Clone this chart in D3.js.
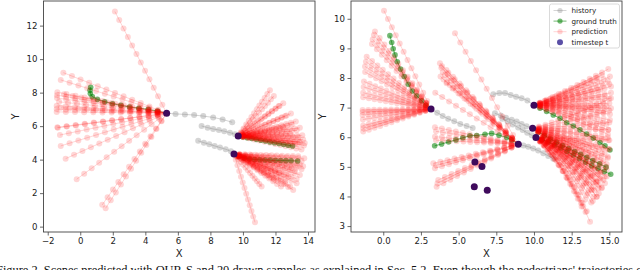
<!DOCTYPE html>
<html>
<head>
<meta charset="utf-8">
<script src="https://cdn.jsdelivr.net/npm/d3@7/dist/d3.min.js"></script>
<style>
  body { margin: 0; background: #fff; }
  svg { display: block; }
</style>
</head>
<body>
<script>
// ---------- left scene (3 agents) ----------
const leftXTicks = [-2, 0, 2, 4, 6, 8, 10, 12, 14];
const leftYTicks = [0, 2, 4, 6, 8, 10, 12];
const leftNow = [[5.31, 6.77], [9.71, 5.41], [9.45, 4.34]];
const leftHistory = [
  [[9.34, 6.23], [8.75, 6.40], [8.17, 6.52], [7.56, 6.60], [7.00, 6.66], [6.43, 6.70], [5.86, 6.73]],
  [[7.46, 6.01], [7.83, 5.91], [8.17, 5.83], [8.52, 5.77], [8.85, 5.70], [9.20, 5.61], [9.51, 5.52]],
  [[7.25, 5.12], [7.60, 5.01], [7.93, 4.92], [8.26, 4.82], [8.59, 4.72], [8.94, 4.62], [9.26, 4.50]]
];
const leftTruth = [
  [[4.75, 6.90], [4.18, 7.00], [3.60, 7.07], [3.03, 7.14], [2.50, 7.24], [1.98, 7.34], [1.50, 7.46], [1.05, 7.60], [0.74, 7.76], [0.62, 7.95], [0.60, 8.14], [0.64, 8.32]],
  [[9.98, 5.36], [10.26, 5.31], [10.54, 5.26], [10.82, 5.21], [11.10, 5.16], [11.38, 5.11], [11.66, 5.06], [11.94, 5.01], [12.22, 4.96], [12.50, 4.91], [12.78, 4.86], [13.05, 4.81]],
  [[9.75, 4.20], [10.08, 4.10], [10.40, 4.04], [10.72, 4.01], [11.04, 3.99], [11.36, 3.98], [11.68, 3.97], [12.00, 3.96], [12.32, 3.95], [12.64, 3.94], [12.96, 3.93], [13.36, 3.92]]
];
// end point of each of the 20 drawn samples
const leftPredEnds = [
  [[2.13, 12.84], [-1.04, 9.19], [-1.20, 8.76], [-1.41, 8.02], [-1.43, 7.85], [-1.43, 7.68], [-1.30, 7.45], [-1.45, 7.22], [-1.45, 7.02], [-1.45, 6.85],
   [-1.41, 5.93], [-1.38, 5.90], [-1.25, 5.47], [-1.20, 4.82], [-0.90, 4.06], [-0.22, 2.83], [1.35, 1.30], [1.56, 1.10], [-1.00, 7.90], [-1.20, 7.10]],
  [[11.66, 8.14], [11.90, 7.80], [12.48, 7.37], [12.20, 7.20], [12.95, 6.75], [12.60, 6.60], [13.25, 6.27], [13.00, 6.10], [13.50, 5.90], [13.30, 5.75],
   [13.65, 5.45], [13.40, 5.35], [13.70, 5.20], [13.50, 5.05], [13.75, 4.85], [13.20, 4.95], [13.60, 4.60], [12.90, 5.55], [12.50, 5.90], [13.80, 5.00]],
  [[13.77, 4.08], [13.60, 3.90], [13.50, 3.70], [13.60, 3.43], [13.50, 3.09], [13.30, 2.85], [13.30, 2.59], [13.09, 2.19], [12.90, 2.40], [12.34, 2.39],
   [12.60, 2.70], [11.15, 2.39], [10.74, 0.26], [13.20, 3.30], [13.00, 3.50], [12.80, 3.00], [13.40, 4.20], [12.20, 3.20], [11.90, 2.80], [13.70, 3.60]]
];
const leftBend = [0.5, 0.5, 0.5];

// ---------- right scene (5 agents + 4 without samples) ----------
const rightXTicks = [0, 2.5, 5, 7.5, 10, 12.5, 15];
const rightYTicks = [3, 4, 5, 6, 7, 8, 9, 10];
const rightNow = [[3.17, 6.95], [8.96, 5.76], [10.00, 7.08], [9.91, 6.30], [10.13, 5.99]];
const rightAlone = [[6.08, 5.16], [6.55, 5.01], [6.04, 4.33], [6.90, 4.21]];
const rightHistory = [
  [[5.93, 6.31], [5.53, 6.38], [5.11, 6.45], [4.71, 6.54], [4.31, 6.62], [3.94, 6.72], [3.58, 6.83]],
  [[11.28, 5.27], [10.95, 5.37], [10.62, 5.46], [10.28, 5.55], [9.95, 5.62], [9.62, 5.68], [9.30, 5.72]],
  [[7.30, 7.45], [7.70, 7.49], [8.08, 7.49], [8.45, 7.43], [8.81, 7.37], [9.18, 7.32], [9.56, 7.24]],
  [[7.41, 6.81], [7.79, 6.73], [8.14, 6.66], [8.52, 6.59], [8.85, 6.53], [9.18, 6.45], [9.51, 6.37]],
  [[7.90, 6.62], [8.25, 6.53], [8.60, 6.43], [8.95, 6.33], [9.25, 6.24], [9.55, 6.15], [9.85, 6.07]]
];
const rightTruth = [
  [[2.83, 7.08], [2.55, 7.23], [2.22, 7.40], [1.93, 7.56], [1.66, 7.79], [1.39, 8.05], [1.15, 8.30], [0.93, 8.55], [0.78, 8.78], [0.66, 8.99], [0.56, 9.20], [0.44, 9.43]],
  [[8.52, 5.91], [8.19, 5.99], [7.68, 6.07], [7.19, 6.13], [6.75, 6.10], [6.20, 6.06], [5.75, 6.05], [5.28, 5.98], [4.82, 5.91], [4.33, 5.84], [3.87, 5.77], [3.41, 5.71]],
  [[10.40, 6.98], [10.84, 6.87], [11.28, 6.75], [11.73, 6.64], [12.17, 6.49], [12.61, 6.38], [13.05, 6.25], [13.49, 6.11], [13.93, 5.97], [14.38, 5.82], [14.71, 5.71], [15.04, 5.57]],
  [[10.30, 6.18], [10.70, 6.06], [11.10, 5.94], [11.50, 5.83], [11.90, 5.72], [12.30, 5.62], [12.70, 5.52], [13.10, 5.42], [13.50, 5.32], [13.90, 5.21], [14.35, 5.10], [14.78, 4.99]],
  [[10.55, 5.92], [10.96, 5.84], [11.37, 5.74], [11.78, 5.64], [12.19, 5.52], [12.60, 5.40], [13.01, 5.28], [13.42, 5.16], [13.83, 5.04], [14.25, 4.94], [14.67, 4.84], [15.09, 4.75]]
];
const rightPredEnds = [
  [[0.05, 10.27], [-0.55, 9.57], [-0.62, 9.45], [-0.70, 9.30], [-0.75, 9.15], [-1.10, 8.72], [-1.15, 8.55], [-1.21, 8.39], [-1.20, 8.20], [-1.28, 7.88],
   [-1.30, 7.70], [-1.33, 7.50], [-1.33, 7.35], [-1.37, 6.92], [-1.37, 6.85], [-1.37, 6.75], [-1.35, 6.60], [-1.33, 6.40], [-1.33, 6.30], [-1.33, 6.19]],
  [[3.76, 8.50], [3.85, 8.35], [3.95, 8.20], [3.80, 8.05], [4.00, 7.95], [4.20, 7.82], [3.90, 8.40], [4.10, 8.10], [4.76, 9.51], [3.45, 7.50],
   [3.43, 6.34], [3.50, 6.20], [3.43, 6.02], [3.50, 5.90], [3.32, 5.12], [3.43, 4.95], [3.50, 5.05], [3.54, 4.33], [3.65, 4.56], [3.60, 4.45]],
  [[14.93, 8.30], [15.04, 8.05], [15.11, 7.71], [14.90, 7.90], [15.11, 7.50], [15.11, 7.32], [15.00, 7.15], [15.11, 6.98], [15.04, 6.78], [15.04, 6.58],
   [14.93, 6.25], [14.80, 6.45], [14.60, 6.90], [14.40, 7.60], [14.20, 8.00], [14.70, 7.40], [15.00, 7.80], [14.90, 6.10], [14.50, 8.10], [14.80, 7.05]],
  [[15.00, 6.90], [15.00, 6.50], [14.93, 6.25], [14.93, 5.90], [14.93, 5.60], [14.90, 5.34], [14.82, 5.10], [14.82, 4.90], [14.70, 4.67], [14.60, 4.56],
   [14.50, 4.30], [14.30, 4.10], [14.16, 3.99], [13.90, 3.85], [15.00, 7.30], [14.90, 6.00], [14.70, 5.50], [14.60, 5.20], [14.40, 4.80], [14.20, 4.50]],
  [[14.82, 4.67], [14.71, 4.45], [14.49, 4.28], [14.27, 4.28], [14.16, 3.99], [13.94, 3.99], [13.72, 3.15], [13.16, 3.66], [13.27, 3.66], [14.60, 4.90],
   [14.90, 5.30], [15.00, 5.60], [14.40, 4.60], [14.00, 4.20], [13.80, 3.80], [13.50, 3.50], [14.80, 5.00], [14.30, 4.40], [15.00, 5.90], [13.40, 3.90]]
];
const rightBend = [0.5, 0.5, 0.45, 0.35, 0.3];

const legendLabels = ["history", "ground truth", "prediction", "timestep t"];
const caption = "Figure 2. Scenes predicted with OUR-S and 20 drawn samples as explained in Sec. 5.2. Even though the pedestrians' trajectories c";

const STEPS = 12;
const colHist = "#808080", colTruth = "green", colPred = "red", colNow = "#3f0a5c";

const svg = d3.select("body").append("svg")
  .attr("width", 640).attr("height", 270)
  .style("font-family", "'DejaVu Sans', sans-serif");

// samples are drawn at equal time steps from the current position
function samplePoints(p0, end, bend) {
  const dx = end[0] - p0[0], dy = end[1] - p0[1];
  return d3.range(1, STEPS + 1).map(k => {
    const s = k / STEPS;
    return [p0[0] + dx * s, p0[1] + dy * (2 * s * (1 - s) * bend + s * s)];
  });
}

function panel(cfg) {
  const x = d3.scaleLinear().domain(cfg.xDomain).range([cfg.left, cfg.right]);
  const y = d3.scaleLinear().domain(cfg.yDomain).range([cfg.bottom, cfg.top]);
  const g = svg.append("g");

  const clipId = "clip" + cfg.id;
  g.append("clipPath").attr("id", clipId).append("rect")
    .attr("x", cfg.left).attr("y", cfg.top)
    .attr("width", cfg.right - cfg.left).attr("height", cfg.bottom - cfg.top);

  const plot = g.append("g").attr("clip-path", `url(#${clipId})`);
  const line = d3.line().x(d => x(d[0])).y(d => y(d[1]));

  function track(pts, color, op, r, withDots) {
    plot.append("path").attr("d", line(pts))
      .attr("fill", "none").attr("stroke", color)
      .attr("stroke-opacity", op).attr("stroke-width", 1);
    plot.append("g").selectAll("circle").data(withDots).enter().append("circle")
      .attr("cx", d => x(d[0])).attr("cy", d => y(d[1])).attr("r", r)
      .attr("fill", color).attr("fill-opacity", op);
  }

  cfg.history.forEach((h, i) => track(h.concat([cfg.now[i]]), colHist, 0.33, 3, h));
  cfg.truth.forEach((t, i) => track([cfg.now[i]].concat(t), colTruth, 0.55, 2.8, t));
  cfg.preds.forEach((ends, i) => {
    ends.forEach(e => {
      const pts = samplePoints(cfg.now[i], e, cfg.bend[i]);
      track([cfg.now[i]].concat(pts), colPred, 0.16, 3, pts);
    });
  });
  plot.append("g").selectAll("circle").data(cfg.now.concat(cfg.alone || [])).enter()
    .append("circle")
    .attr("cx", d => x(d[0])).attr("cy", d => y(d[1])).attr("r", 3.5)
    .attr("fill", colNow);

  // frame
  g.append("rect").attr("x", cfg.left).attr("y", cfg.top)
    .attr("width", cfg.right - cfg.left).attr("height", cfg.bottom - cfg.top)
    .attr("fill", "none").attr("stroke", "#444").attr("stroke-width", 0.9);

  const xAxis = g.append("g").attr("transform", `translate(0,${cfg.bottom})`)
    .call(d3.axisBottom(x).tickValues(cfg.xTicks).tickSize(3.5).tickPadding(2.5).tickFormat(cfg.xFmt));
  const yAxis = g.append("g").attr("transform", `translate(${cfg.left},0)`)
    .call(d3.axisLeft(y).tickValues(cfg.yTicks).tickSize(3.5).tickPadding(2.5).tickFormat(cfg.yFmt));
  [xAxis, yAxis].forEach(a => {
    a.select(".domain").remove();
    a.selectAll(".tick line").attr("stroke", "#444").attr("stroke-width", 0.8);
    a.selectAll("text").attr("fill", "#222").style("font-size", "8.6px")
      .style("font-family", "'DejaVu Sans', sans-serif");
  });

  g.append("text").attr("x", (cfg.left + cfg.right) / 2).attr("y", 257)
    .attr("text-anchor", "middle").attr("font-size", 10).attr("fill", "#222").text("X");
  g.append("text")
    .attr("transform", `translate(${cfg.left - cfg.yLabelGap},${(cfg.top + cfg.bottom) / 2}) rotate(-90)`)
    .attr("text-anchor", "middle").attr("font-size", 10).attr("fill", "#222").text("Y");
  return { x, y, g };
}

const minus = d => d3.format("d")(d).replace("-", "\u2212");

panel({
  id: "L", left: 43.5, right: 315, top: 1, bottom: 232,
  xDomain: [-2.26, 14.43], yDomain: [-0.32, 13.47],
  xTicks: leftXTicks, yTicks: leftYTicks, xFmt: minus, yFmt: d3.format("d"),
  now: leftNow, history: leftHistory, truth: leftTruth, preds: leftPredEnds, bend: leftBend,
  yLabelGap: 25
});

panel({
  id: "R", left: 351, right: 622, top: 1, bottom: 232,
  xDomain: [-2.14, 15.84], yDomain: [2.80, 10.60],
  xTicks: rightXTicks, yTicks: rightYTicks, xFmt: d3.format(".1f"), yFmt: d3.format("d"),
  now: rightNow, alone: rightAlone, history: rightHistory, truth: rightTruth, preds: rightPredEnds, bend: rightBend,
  yLabelGap: 25
});

// legend
const lg = svg.append("g").attr("transform", "translate(549.5,4)");
lg.append("rect").attr("width", 70).attr("height", 44).attr("rx", 2)
  .attr("fill", "#fff").attr("fill-opacity", 0.8).attr("stroke", "#d0d0d0").attr("stroke-width", 0.8);
const legendStyles = [
  { c: colHist, op: 0.33, line: true },
  { c: colTruth, op: 0.55, line: true },
  { c: colPred, op: 0.17, line: true },
  { c: "#5a4fa6", op: 1, line: false }
];
legendLabels.forEach((lab, i) => {
  const yy = 6.5 + i * 10.6;
  const st = legendStyles[i];
  if (st.line) {
    lg.append("line").attr("x1", 4).attr("x2", 17).attr("y1", yy).attr("y2", yy)
      .attr("stroke", st.c).attr("stroke-opacity", st.op);
  }
  lg.append("circle").attr("cx", 10.5).attr("cy", yy).attr("r", st.line ? 2.6 : 3)
    .attr("fill", st.c).attr("fill-opacity", st.op);
  lg.append("text").attr("x", 22).attr("y", yy + 2.5).attr("font-size", 7.2).attr("fill", "#222").text(lab);
});

// caption, cut by the bottom edge as in the source
svg.append("text").attr("x", -4).attr("y", 273.5)
  .attr("font-family", "'Liberation Serif', serif").attr("font-size", 12.4).attr("fill", "#111")
  .text(caption);
</script>
</body>
</html>
